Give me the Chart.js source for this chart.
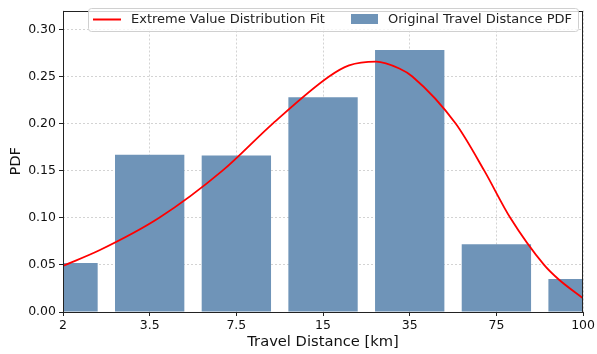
<!DOCTYPE html>
<html>
<head>
<meta charset="utf-8">
<script src="https://cdn.jsdelivr.net/npm/chart.js@4"></script>
<style>
  body { margin: 0; background: #fff; }
  #wrap { width: 597px; height: 354px; }
</style>
</head>
<body>
<div id="wrap"><canvas id="myChart" width="597" height="354"></canvas></div>
<script>
// tick labels on the x axis (one per bin position)
const tickLabels = ["2", "3.5", "7.5", "15", "35", "75", "100"];
// bar heights
const pdfValues = [0.052, 0.167, 0.166, 0.228, 0.278, 0.072, 0.035];
// fitted curve (x in bin positions)
const fitX = [0, 0.42, 1.11, 1.84, 2.42, 3.07, 3.3, 3.61, 3.88, 4.03, 4.53, 4.86, 5.16, 5.55, 5.72, 6];
const fitY = [0.049, 0.0655, 0.100, 0.150, 0.200, 0.250, 0.2618, 0.2658, 0.2585, 0.250, 0.200, 0.150, 0.100, 0.050, 0.0345, 0.0145];

const barColor = "rgb(111, 148, 184)";
const gridColor = "#c8c8c8";

let ctx = document.getElementById("myChart").getContext("2d");

// draws the frame around the plot and the legend box inside it
const framePlugin = {
  id: "frame",
  afterDraw(chart) {
    const a = chart.chartArea;
    const c = chart.ctx;
    c.save();
    c.strokeStyle = "#222";
    c.lineWidth = 1;
    c.strokeRect(Math.round(a.left) + 0.5, Math.round(a.top) + 0.5,
      Math.round(a.right - a.left) - 1, Math.round(a.bottom - a.top) - 1);

    // legend
    const x0 = 88.5, y0 = 8.5, w = 490, h = 23;
    c.fillStyle = "rgba(255,255,255,0.8)";
    c.strokeStyle = "#d0d0d0";
    c.beginPath();
    c.roundRect(x0, y0, w, h, 3);
    c.fill();
    c.stroke();
    const ds = chart.data.datasets;
    c.font = "13px 'DejaVu Sans'";
    c.textBaseline = "middle";
    c.fillStyle = "#222";
    // line sample
    c.strokeStyle = ds[0].borderColor;
    c.lineWidth = 2;
    c.beginPath();
    c.moveTo(93, 19.5);
    c.lineTo(121, 19.5);
    c.stroke();
    c.fillText(ds[0].label, 131, 20);
    // bar sample
    c.fillStyle = ds[1].backgroundColor;
    c.fillRect(351, 14, 27, 10);
    c.fillStyle = "#222";
    c.fillText(ds[1].label, 388, 20);
    c.restore();
  }
};

const data = {
  datasets: [
    {
      type: "line",
      label: "Extreme Value Distribution Fit",
      data: fitX.map((x, i) => ({ x: x, y: fitY[i] })),
      borderColor: "#ff0000",
      borderWidth: 1.8,
      pointRadius: 0,
      cubicInterpolationMode: "monotone",
      order: 0
    },
    {
      type: "bar",
      label: "Original Travel Distance PDF",
      data: pdfValues.map((v, i) => ({ x: i, y: v })),
      backgroundColor: barColor,
      borderWidth: 0,
      inflateAmount: 0,
      barPercentage: 1,
      categoryPercentage: 0.8,
      order: 1
    }
  ]
};

const config = {
  data: data,
  options: {
    responsive: false,
    animation: false,
    layout: { padding: { top: 2, right: 13, left: 0, bottom: 0 } },
    plugins: {
      legend: { display: false },
      tooltip: { enabled: false }
    },
    scales: {
      x: {
        type: "linear",
        min: 0,
        max: 6,
        offset: false,
        afterFit(scale) { scale.height = 42; },
        afterBuildTicks(scale) {
          scale.ticks = tickLabels.map((t, i) => ({ value: i }));
        },
        ticks: {
          autoSkip: false,
          maxRotation: 0,
          padding: 2,
          color: "#111",
          font: { family: "DejaVu Sans", size: 12.5 },
          callback: (v) => tickLabels[v]
        },
        grid: {
          offset: false,
          color: gridColor,
          lineWidth: 0.8,
          tickColor: "#222",
          tickLength: 4,
          tickBorderDash: [],
          tickWidth: 1
        },
        border: { display: false, dash: [2, 2] },
        title: {
          display: true,
          text: "Travel Distance [km]",
          color: "#111",
          font: { family: "DejaVu Sans", size: 14.7 },
          padding: { top: 1, bottom: 3 }
        }
      },
      y: {
        min: 0,
        max: 0.32,
        afterFit(scale) { scale.width = 63; },
        afterBuildTicks(scale) {
          scale.ticks = scale.ticks.filter((t) => t.value <= 0.3 + 1e-9);
        },
        ticks: {
          stepSize: 0.05,
          padding: 3,
          color: "#111",
          font: { family: "DejaVu Sans", size: 12.5 },
          callback: (v) => v.toFixed(2)
        },
        grid: {
          color: gridColor,
          lineWidth: 0.8,
          tickColor: "#222",
          tickLength: 4,
          tickBorderDash: [],
          tickWidth: 1
        },
        border: { display: false, dash: [2, 2] },
        title: {
          display: true,
          text: "PDF",
          color: "#111",
          font: { family: "DejaVu Sans", size: 14.7 },
          padding: { top: 7, bottom: 0 }
        }
      }
    }
  },
  plugins: [framePlugin]
};

let myChart = new Chart(ctx, config);
</script>
</body>
</html>
